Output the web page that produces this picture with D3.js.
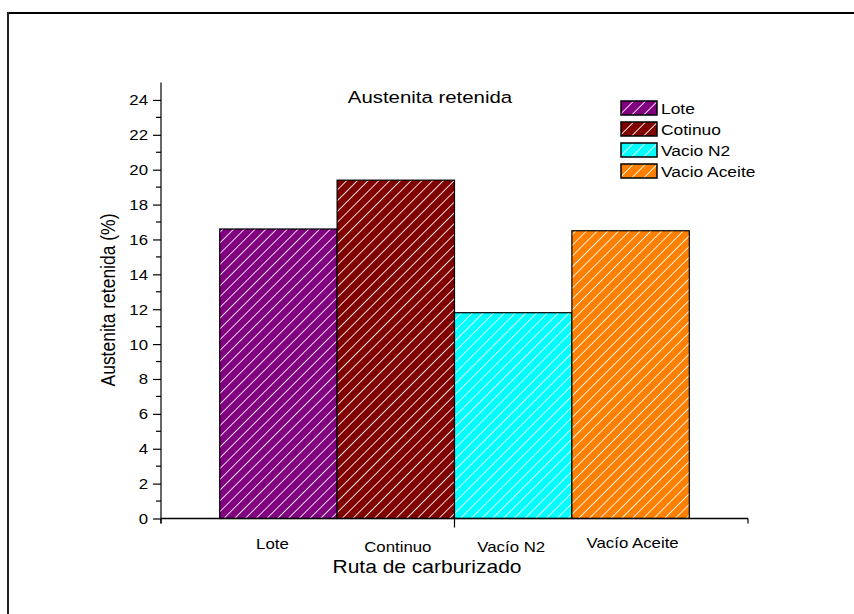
<!DOCTYPE html>
<html>
<head>
<meta charset="utf-8">
<script src="https://cdn.jsdelivr.net/npm/d3@7"></script>
<style>
  html, body { margin: 0; padding: 0; background: #fff; }
  svg { display: block; font-family: "Liberation Sans", Arial, sans-serif; }
</style>
</head>
<body>
<svg id="chart" width="854" height="614"></svg>
<script>
// Retained austenite by carburizing route
const categories = ["Lote", "Continuo", "Vacío N2", "Vacío Aceite"];
const legendLabels = ["Lote", "Cotinuo", "Vacio N2", "Vacio Aceite"];
const values = [16.6, 19.4, 11.8, 16.5];
const colors = ["#800080", "#800000", "#00ffff", "#ff8000"];
const yTicks = [0, 2, 4, 6, 8, 10, 12, 14, 16, 18, 20, 22, 24];

const svg = d3.select("#chart");
const STRETCH = 1.2; // horizontal widening of the lettering

// Places a text element at (px, py) with widened glyphs
function placeText(sel, px, py) {
  return sel.attr("transform", `translate(${px},${py}) scale(${STRETCH},1)`);
}

// Frame lines (top and left)
svg.append("line").attr("x1", 7).attr("x2", 854).attr("y1", 13).attr("y2", 13)
  .attr("stroke", "#000").attr("stroke-width", 2);
svg.append("line").attr("x1", 8).attr("x2", 8).attr("y1", 12).attr("y2", 614)
  .attr("stroke", "#222").attr("stroke-width", 2);

// Scales: bars sit at positions 1..4 with unit width on a 0..5 axis
const x = d3.scaleLinear().domain([0, 5]).range([161, 748]);
const y = d3.scaleLinear().domain([0, 25]).range([518.5, 82.5]);

// Hatch patterns
const defs = svg.append("defs");
function hatch(id, color, spacing, w) {
  const p = defs.append("pattern")
    .attr("id", id)
    .attr("patternUnits", "userSpaceOnUse")
    .attr("width", spacing).attr("height", spacing)
    .attr("patternTransform", "rotate(45)");
  p.append("rect").attr("width", spacing).attr("height", spacing).attr("fill", color);
  p.append("line").attr("x1", 0).attr("x2", 0).attr("y1", 0).attr("y2", spacing)
    .attr("stroke", "#fff").attr("stroke-width", w);
}
colors.forEach((c, i) => { hatch("bar" + i, c, 7.6, 1.7); hatch("leg" + i, c, 8.5, 1.8); });

// Bars
svg.append("g").selectAll("rect").data(values).join("rect")
  .attr("x", (d, i) => x(i + 0.5))
  .attr("width", (d, i) => x(i + 1.5) - x(i + 0.5))
  .attr("y", d => y(d))
  .attr("height", d => y(0) - y(d))
  .attr("fill", (d, i) => `url(#bar${i})`)
  .attr("stroke", "#000").attr("stroke-width", 1.2);

// Y axis with major ticks every 2 and minor ticks in between
const yAxis = svg.append("g").attr("transform", `translate(${x(0)},0)`)
  .call(d3.axisLeft(y).tickValues(yTicks).tickSize(8).tickFormat(d3.format("d")));
yAxis.select(".domain").attr("d", `M0,${y(25)}V${y(0) + 5}`).attr("stroke", "#000").attr("stroke-width", 1.2);
yAxis.selectAll(".tick line").attr("stroke", "#000").attr("stroke-width", 1.2);
yAxis.selectAll(".tick text").each(function () {
  d3.select(this).attr("x", null).attr("dy", null)
    .attr("font-size", 14).attr("fill", "#000")
    .attr("font-family", "Liberation Sans, Arial, sans-serif");
  placeText(d3.select(this), -13, 5);
});
svg.append("g").selectAll("line").data(d3.range(1, 25, 2)).join("line")
  .attr("x1", x(0) - 5).attr("x2", x(0))
  .attr("y1", d => y(d)).attr("y2", d => y(d))
  .attr("stroke", "#000").attr("stroke-width", 1.2);

// X axis: plain line with ticks at both ends and a centre tick
svg.append("line").attr("x1", x(0)).attr("x2", x(5)).attr("y1", y(0)).attr("y2", y(0))
  .attr("stroke", "#000").attr("stroke-width", 1.5);
svg.append("g").selectAll("line").data([[0, 5], [2.5, 9], [5, 5]]).join("line")
  .attr("x1", d => x(d[0])).attr("x2", d => x(d[0]))
  .attr("y1", y(0)).attr("y2", d => y(0) + d[1])
  .attr("stroke", "#000").attr("stroke-width", 1.2);

// Category labels under the bars
const labelDy = [30, 33, 33, 29];
const labelDx = [-6, 2, -2, 2];
svg.append("g").selectAll("text").data(categories).join("text")
  .each(function (d, i) { placeText(d3.select(this), x(i + 1) + labelDx[i], y(0) + labelDy[i]); })
  .attr("text-anchor", "middle")
  .attr("font-size", 14).attr("fill", "#000")
  .text(d => d);

// Titles
placeText(svg.append("text"), 427, 573).attr("text-anchor", "middle")
  .attr("font-size", 17.5).attr("fill", "#000").text("Ruta de carburizado");
svg.append("text").attr("transform", `translate(115,300) rotate(-90) scale(1,${STRETCH})`)
  .attr("text-anchor", "middle").attr("font-size", 17.5).attr("fill", "#000")
  .text("Austenita retenida (%)");
placeText(svg.append("text"), 430, 103).attr("text-anchor", "middle")
  .attr("font-size", 17).attr("fill", "#000").text("Austenita retenida");

// Legend
const legend = svg.append("g").selectAll("g").data(legendLabels).join("g")
  .attr("transform", (d, i) => `translate(621,${101 + i * 21})`);
legend.append("rect").attr("width", 36).attr("height", 14)
  .attr("fill", (d, i) => `url(#leg${i})`)
  .attr("stroke", "#000").attr("stroke-width", 1.5);
legend.append("text")
  .attr("transform", `translate(40,13) scale(${STRETCH},1)`)
  .attr("font-size", 14.5).attr("fill", "#000").text(d => d);
</script>
</body>
</html>
